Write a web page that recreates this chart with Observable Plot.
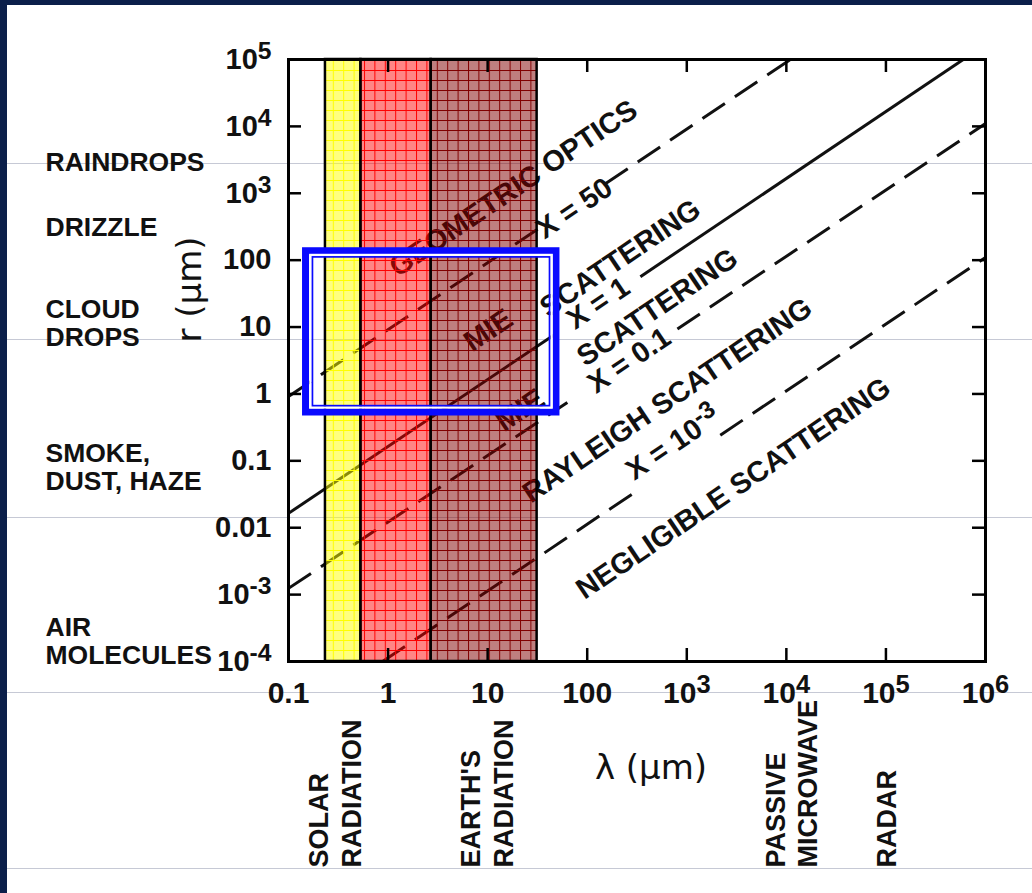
<!DOCTYPE html>
<html><head><meta charset="utf-8">
<script src="https://cdn.jsdelivr.net/npm/d3@7"></script>
<script src="https://cdn.jsdelivr.net/npm/@observablehq/plot@0.6"></script>
<style>
html,body{margin:0;padding:0;background:#fff;width:1032px;height:893px;overflow:hidden;}
#wrap{position:relative;width:1032px;height:893px;}
.guide{position:absolute;left:0;width:1032px;height:1px;background:#c6c9d5;}
#navyL{position:absolute;left:0;top:0;width:7px;height:893px;background:#0b1f4a;z-index:5}
#navyT{position:absolute;left:0;top:0;width:1032px;height:5px;background:#0b1f4a;z-index:5}
#chart{position:absolute;left:0;top:0;z-index:2}
</style></head><body>
<div id="wrap">
  <div class="guide" style="top:163px"></div>
  <div class="guide" style="top:339px"></div>
  <div class="guide" style="top:517px"></div>
  <div class="guide" style="top:692px"></div>
  <div class="guide" style="top:868px"></div>
  <div id="chart"></div>
  <div id="navyL"></div><div id="navyT"></div>
</div>
<svg width="0" height="0" style="position:absolute">
  <defs>
    <pattern id="gY" patternUnits="userSpaceOnUse" width="10.4" height="10">
      <rect width="10.4" height="10" fill="#ffff00" fill-opacity="0.5"/>
      <path d="M0,0.5H10.4M0.5,0V10" stroke="#ffff00" stroke-width="1"/>
    </pattern>
    <pattern id="gR" patternUnits="userSpaceOnUse" width="10.4" height="10">
      <rect width="10.4" height="10" fill="#ff0000" fill-opacity="0.48"/>
      <path d="M0,0.5H10.4M0.5,0V10" stroke="#ff0000" stroke-width="1"/>
    </pattern>
    <pattern id="gB" patternUnits="userSpaceOnUse" width="10.4" height="10">
      <rect width="10.4" height="10" fill="#800000" fill-opacity="0.5"/>
      <path d="M0,0.5H10.4M0.5,0V10" stroke="#800000" stroke-width="1"/>
    </pattern>
  </defs>
</svg>
<script>
// ---- data ----
const xTicks = [0.1, 1, 10, 100, 1e3, 1e4, 1e5, 1e6];
const xTickLabels = ["0.1", "1", "10", "100", "10^3", "10^4", "10^5", "10^6"];
const yTicks = [1e-4, 1e-3, 0.01, 0.1, 1, 10, 100, 1e3, 1e4, 1e5];
const yTickLabels = ["10^-4", "10^-3", "0.01", "0.1", "1", "10", "100", "10^3", "10^4", "10^5"];
const xInnerTicks = [1, 10, 100, 1e3, 1e4, 1e5];
const yInnerTicks = [1e-3, 0.01, 0.1, 1, 10, 100, 1e3, 1e4];

const particleNames = ["RAINDROPS", "DRIZZLE", "CLOUD\nDROPS", "SMOKE,\nDUST, HAZE", "AIR\nMOLECULES"];
const particleR = [2880, 313, 11.5, 0.08, 2.03e-4];

const regionNames = ["SOLAR\nRADIATION", "EARTH'S\nRADIATION", "PASSIVE\nMICROWAVE", "RADAR"];
const regionLambda = [0.286, 9.7, 1.1e4, 9.8e4];

const bandFrom = [0.235, 0.534, 2.71];
const bandTo = [0.534, 2.71, 31.4];

// size-parameter lines, drawn as segments (gaps where labels sit)
const lineNames = ["X = 50", "X = 1", "X = 0.1", "X = 10^-3"];
const segLine = [0, 0, 1, 1, 2, 2, 3, 3];
const segLam1 = [0.1, 152, 0.1, 342, 0.1, 805, 0.88, 2170];
const segR1   = [0.918, 1390, 0.0164, 56.7, 1.24e-3, 9.37, 1.0e-4, 0.242];
const segLam2 = [33.9, 1.1e4, 48, 5.98e5, 63.2, 1e6, 284, 1e6];
const segR2   = [310, 1e5, 7.9, 1e5, 0.748, 1.1e4, 0.032, 110];

const zoneText = ["GEOMETRIC OPTICS", "X = 50", "MIE", "SCATTERING", "X = 1", "MIE", "SCATTERING",
                  "X = 0.1", "RAYLEIGH SCATTERING", "X = 10^-3", "NEGLIGIBLE SCATTERING"];
const zoneLam = [18.2, 74.3, 10.2, 215, 129, 21.3, 507, 265, 638, 733, 2940];
const zoneR   = [1180, 593, 8.9, 106, 22.5, 0.566, 19.6, 3.16, 0.80, 0.182, 0.0386];

// highlight box (outer, white gap, inner)
const boxLam1 = [0.150, 0.168, 0.176];
const boxLam2 = [49.1, 44.4, 42.3];
const boxR1   = [0.528, 0.618, 0.657];
const boxR2   = [136, 117.5, 110];

// ---- build ----
const W = 1032, H = 893;
const mL = 288, mR = 47, mT = 59, mB = 232;
const plotW = W - mL - mR, plotH = H - mT - mB;
const tl = 13;
const font = "Liberation Sans, Arial, Helvetica, sans-serif";

const xLab = new Map(xTicks.map((d, i) => [d, xTickLabels[i]]));
const yLab = new Map(yTicks.map((d, i) => [d, yTickLabels[i]]));
const segs = segLine.map((k, i) => ({k, lam1: segLam1[i], r1: segR1[i], lam2: segLam2[i], r2: segR2[i]}));
const zones = zoneText.map((t, i) => ({t, lam: zoneLam[i], r: zoneR[i]}));
const particles = particleNames.map((name, i) => ({name, r: particleR[i]}));
const regions = regionNames.map((name, i) => ({name, lam: regionLambda[i]}));
const pats = ["gY", "gR", "gB"];
const boxes = boxLam1.map((d, i) => ({i, l1: d, l2: boxLam2[i], r1: boxR1[i], r2: boxR2[i]}));
const boxStyle = [{stroke: "#0a0aff", w: 7}, {stroke: "#ffffff", w: 2.4}, {stroke: "#0a0aff", w: 1.7}];

const marks = [
  Plot.link(segs.filter(d => d.k !== 1), {x1: "lam1", y1: "r1", x2: "lam2", y2: "r2",
    stroke: "#111", strokeWidth: 3, strokeDasharray: "27,12", clip: true}),
  Plot.link(segs.filter(d => d.k === 1), {x1: "lam1", y1: "r1", x2: "lam2", y2: "r2",
    stroke: "#111", strokeWidth: 3, clip: true}),
  Plot.text(zones, {x: "lam", y: "r", text: "t", rotate: -34, fontSize: 29, fontWeight: "bold",
    fontFamily: font, fill: "#111"}),
];
bandFrom.forEach((f, i) => {
  marks.push(Plot.rect([i], {x1: j => bandFrom[j], x2: j => bandTo[j], fill: `url(#${pats[i]})`,
    stroke: "#000", strokeWidth: 2.5}));
});
marks.push(
  Plot.tickY(yInnerTicks, {y: d => d, insetRight: plotW - tl, stroke: "#000", strokeWidth: 2.5}),
  Plot.tickY(yInnerTicks, {y: d => d, insetLeft: plotW - tl, stroke: "#000", strokeWidth: 2.5}),
  Plot.tickX(xInnerTicks, {x: d => d, insetBottom: plotH - tl, stroke: "#000", strokeWidth: 2.5}),
  Plot.tickX(xInnerTicks, {x: d => d, insetTop: plotH - tl, stroke: "#000", strokeWidth: 2.5}),
  Plot.frame({stroke: "#000", strokeWidth: 3}),
  Plot.axisY(yTicks, {anchor: "left", tickSize: 0, tickPadding: 17, tickFormat: d => yLab.get(d),
    fontSize: 29, fontWeight: "bold", fontFamily: font, label: null, fill: "#111"}),
  Plot.axisX(xTicks, {anchor: "bottom", tickSize: 0, tickPadding: 20, tickFormat: d => xLab.get(d),
    fontSize: 30, fontWeight: "bold", fontFamily: font, label: null, fill: "#111"}),
  Plot.text(particles, {y: "r", text: "name", frameAnchor: "left", dx: -243, textAnchor: "start",
    fontSize: 26.5, fontWeight: "bold", fontFamily: font, lineHeight: 1.05, lineAnchor: "middle", fill: "#111"}),
  Plot.text(regions, {x: "lam", text: "name", frameAnchor: "bottom", dy: 206, rotate: -90,
    textAnchor: "start", lineAnchor: "middle", fontSize: 27, fontWeight: "bold", fontFamily: font,
    lineHeight: 1.22, fill: "#111"}),
  Plot.text(["r (μm)"], {frameAnchor: "left", dx: -98, dy: -18, rotate: -90, lineAnchor: "middle",
    fontSize: 34, fontFamily: "DejaVu Sans, sans-serif", fill: "#111"}),
  Plot.text(["λ (μm)"], {frameAnchor: "bottom", dx: 14, dy: 107, lineAnchor: "middle", fontSize: 34,
    fontFamily: "DejaVu Sans, sans-serif", fill: "#111"})
);
boxes.forEach((b, i) => {
  marks.push(Plot.rect([b], {x1: "l1", x2: "l2", y1: "r1", y2: "r2", fill: "none",
    stroke: boxStyle[i].stroke, strokeWidth: boxStyle[i].w}));
});

const chart = Plot.plot({
  width: W, height: H,
  marginLeft: mL, marginRight: mR, marginTop: mT, marginBottom: mB,
  style: {background: "transparent", fontFamily: font},
  x: {type: "log", domain: [0.1, 1e6]},
  y: {type: "log", domain: [1e-4, 1e5]},
  marks
});

// superscript exponents: "10^n"
chart.querySelectorAll("text, tspan").forEach(t => {
  if (t.children.length) return;
  const s = t.textContent;
  const m = s.match(/^(.*?)10\^(-?\d+)$/);
  if (!m) return;
  t.textContent = m[1] + "10";
  const ts = document.createElementNS("http://www.w3.org/2000/svg", "tspan");
  ts.setAttribute("dy", "-0.4em");
  ts.setAttribute("font-size", "0.85em");
  ts.textContent = m[2];
  t.appendChild(ts);
});
document.getElementById("chart").appendChild(chart);
</script>
</body></html>
